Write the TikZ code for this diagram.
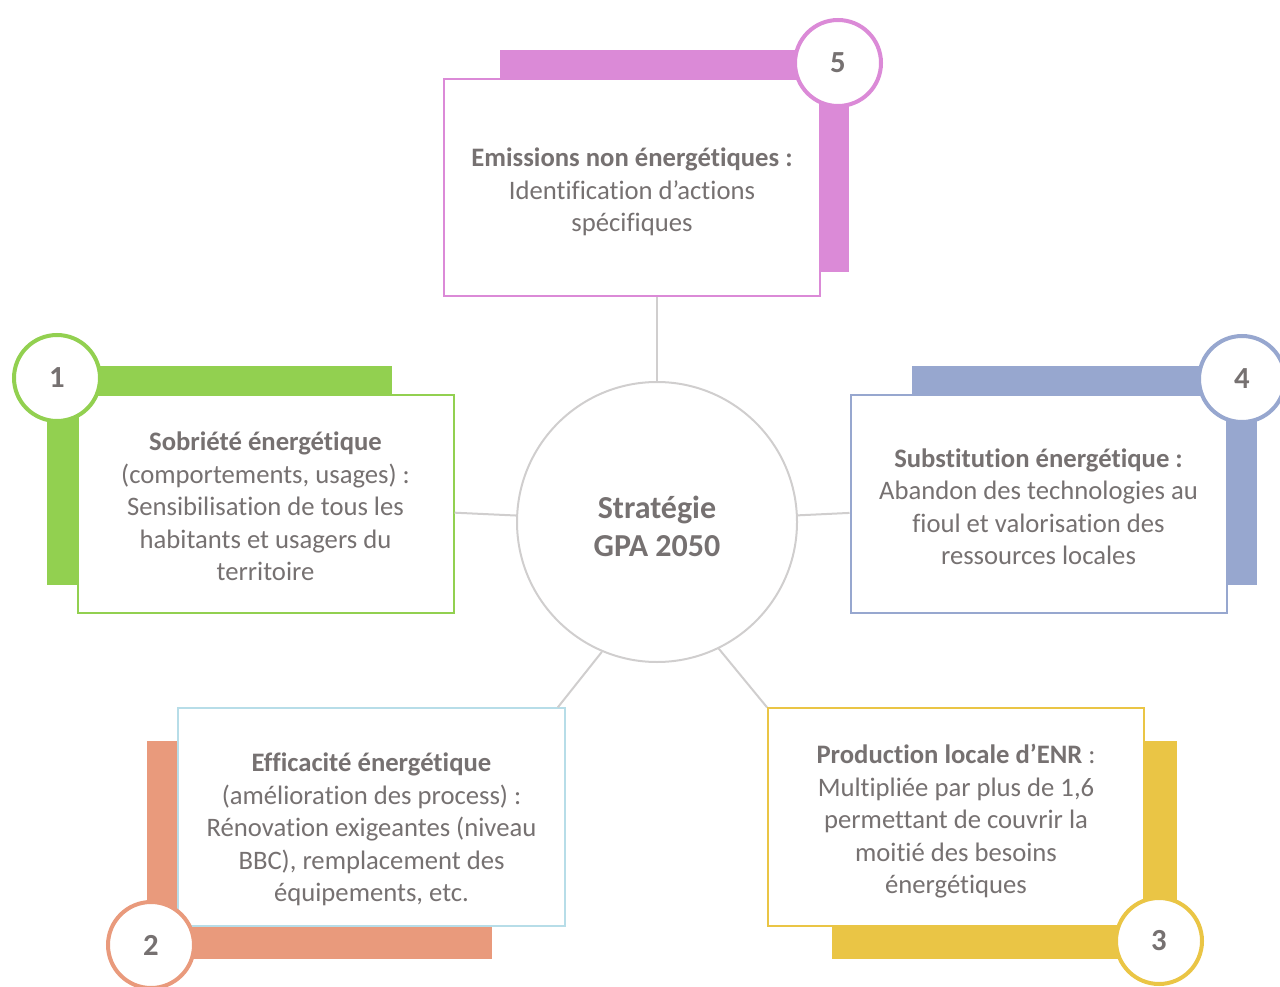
\documentclass[tikz,border=0pt]{standalone}
\usepackage{fontspec}
\setmainfont{Carlito}[Ligatures=NoCommon]
\definecolor{txtgray}{HTML}{767171}
\definecolor{linkgray}{HTML}{D0CECE}
\definecolor{greenbar}{HTML}{92D050}
\definecolor{pinkbar}{HTML}{DB8AD7}
\definecolor{bluebar}{HTML}{97A7CF}
\definecolor{salmonbar}{HTML}{E99A7C}
\definecolor{yellowbar}{HTML}{EAC545}
\definecolor{iceblue}{HTML}{B7DDE8}
\newcommand{\toppad}[1]{\rule{0pt}{#1}}

\begin{document}
\begin{tikzpicture}[x=0.75pt,y=-0.75pt]
        \tikzstyle{card}=[rectangle,draw,fill=white,line width=1.5pt,align=center,text=txtgray,minimum width=282pt,minimum height=163pt,font=\fontsize{20}{24.4}\selectfont]
        \tikzstyle{badge}=[circle,draw,fill=white,line width=3pt,minimum size=64.5pt,inner sep=0pt,text=txtgray,font=\fontsize{23}{24}\selectfont\bfseries]
        \tikzstyle{hub}=[circle,draw=linkgray,line width=1.5pt,minimum size=210pt,inner sep=0pt,align=center,text=txtgray,font=\fontsize{24}{28.5}\selectfont\bfseries]
        \tikzstyle{link}=[draw=linkgray,line width=1.5pt]
        \useasboundingbox (0,0) rectangle (1280,987);
        % coloured bars behind the cards
        \fill[pinkbar] (500,50) rectangle (849,272);
        \fill[greenbar] (47,366) rectangle (392,585);
        \fill[bluebar] (912,366) rectangle (1257,585);
        \fill[salmonbar] (147,741) rectangle (492,959);
        \fill[yellowbar] (832,741) rectangle (1177,959);
        % centre
        \node[hub] (gpa) at (657,522) {\toppad{24pt}Stratégie\\GPA 2050};
        % cards
        \node[card,draw=pinkbar] (b5) at (632,187.5)
            {\toppad{21pt}\textbf{Emissions non énergétiques :}\\Identification d’actions\\spécifiques};
        \node[card,draw=greenbar] (b1) at (265.5,504)
            {\toppad{18pt}\textbf{Sobriété énergétique}\\(comportements, usages) :\\Sensibilisation de tous les\\habitants et usagers du\\territoire};
        \node[card,draw=bluebar] (b4) at (1038.5,504)
            {\toppad{18pt}\textbf{Substitution énergétique :}\\Abandon des technologies au\\fioul et valorisation des\\ressources locales};
        \node[card,draw=iceblue,minimum width=290pt] (b2) at (371.5,817)
            {\toppad{33pt}\textbf{Efficacité énergétique}\\(amélioration des process) :\\Rénovation exigeantes (niveau\\BBC), remplacement des\\équipements, etc.};
        \node[card,draw=yellowbar] (b3) at (956,817)
            {\toppad{21pt}\textbf{Production locale d’ENR} :\\Multipliée par plus de 1,6\\permettant de couvrir la\\moitié des besoins\\énergétiques};
        % numbered badges
        \node[badge,draw=pinkbar] (n5) at (838,63) {5};
        \node[badge,draw=greenbar] (n1) at (57,378) {1};
        \node[badge,draw=bluebar] (n4) at (1242,379) {4};
        \node[badge,draw=salmonbar] (n2) at (151,945) {2};
        \node[badge,draw=yellowbar] (n3) at (1159,941) {3};
        % connectors
        \draw[link] (b5.south -| gpa.north) -- (gpa.north);
        \draw[link] (b1) -- (gpa);
        \draw[link] (gpa) -- (b4);
        \draw[link] (gpa.247) -- ([xshift=-6pt]b2.north east);
        \draw[link] (gpa.296) -- (b3.north west);
\end{tikzpicture}
\end{document}
